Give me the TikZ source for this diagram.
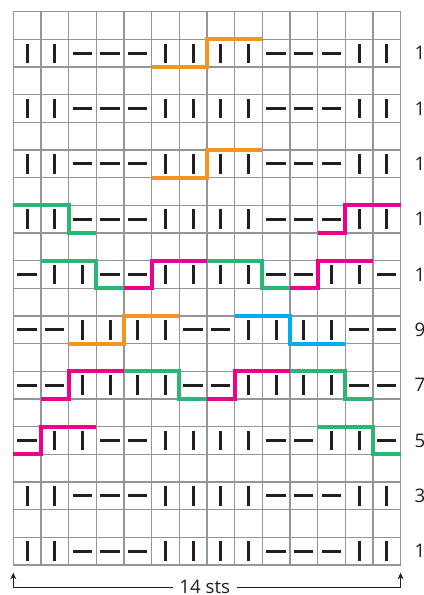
\documentclass[tikz,border=0pt]{standalone}
\usepackage{fontspec}
\setmainfont{Open Sans}
\usetikzlibrary{arrows.meta}
\definecolor{gridgray}{HTML}{939598}
\definecolor{ink}{HTML}{231F20}
\definecolor{corange}{HTML}{F7941D}
\definecolor{cgreen}{HTML}{2AB673}
\definecolor{cpink}{HTML}{EC008C}
\definecolor{cblue}{HTML}{00AEEF}
\newcommand\chartrow[2]{%
  \foreach \v [count=\c] in {#2} {%
    \ifnum\v=1
      \draw[knit] (\c-0.5,#1+0.15) -- ++(0,0.7);
    \else
      \draw[purl] (\c-0.85,#1+0.5) -- ++(0.7,0);
    \fi
  }%
}
\begin{document}
\begin{tikzpicture}[x=20.74pt,y=20.74pt,
  gridline/.style={draw=gridgray,line width=1.1pt},
  knit/.style={draw=ink,line width=2.1pt},
  purl/.style={draw=ink,line width=2.1pt},
  cable/.style={line width=3pt,line join=miter},
  lbl/.style={font=\fontsize{14}{16}\selectfont,text=ink,inner sep=0pt},
  dim/.style={draw=ink,line width=0.8pt}]
\useasboundingbox (-0.481,-1.085) rectangle (14.817,20.423);
\foreach \i in {0,...,14} \draw[gridline] (\i,0) -- (\i,20);
\foreach \j in {0,...,20} \draw[gridline] (0,\j) -- (14,\j);
\chartrow{0}{1,1,0,0,0,1,1,1,1,0,0,0,1,1}
\chartrow{2}{1,1,0,0,0,1,1,1,1,0,0,0,1,1}
\chartrow{4}{0,1,1,0,0,1,1,1,1,0,0,1,1,0}
\chartrow{6}{0,0,1,1,1,1,0,0,1,1,1,1,0,0}
\chartrow{8}{0,0,1,1,1,1,0,0,1,1,1,1,0,0}
\chartrow{10}{0,1,1,0,0,1,1,1,1,0,0,1,1,0}
\chartrow{12}{1,1,0,0,0,1,1,1,1,0,0,0,1,1}
\chartrow{14}{1,1,0,0,0,1,1,1,1,0,0,0,1,1}
\chartrow{16}{1,1,0,0,0,1,1,1,1,0,0,0,1,1}
\chartrow{18}{1,1,0,0,0,1,1,1,1,0,0,0,1,1}
% orange
\draw[cable,corange] (5,18) -- (7,18) -- (7,19) -- (9,19);
\draw[cable,corange] (5,14) -- (7,14) -- (7,15) -- (9,15);
\draw[cable,corange] (2,8) -- (4,8) -- (4,9) -- (6,9);
% green
\draw[cable,cgreen] (0,13) -- (2,13) -- (2,12) -- (3,12);
\draw[cable,cgreen] (1,11) -- (3,11) -- (3,10) -- (4,10);
\draw[cable,cgreen] (7,11) -- (9,11) -- (9,10) -- (10,10);
\draw[cable,cgreen] (4,7) -- (6,7) -- (6,6) -- (7,6);
\draw[cable,cgreen] (10,7) -- (12,7) -- (12,6) -- (13,6);
\draw[cable,cgreen] (11,5) -- (13,5) -- (13,4) -- (14,4);
% pink
\draw[cable,cpink] (11,12) -- (12,12) -- (12,13) -- (14,13);
\draw[cable,cpink] (4,10) -- (5,10) -- (5,11) -- (7,11);
\draw[cable,cpink] (10,10) -- (11,10) -- (11,11) -- (13,11);
\draw[cable,cpink] (1,6) -- (2,6) -- (2,7) -- (4,7);
\draw[cable,cpink] (7,6) -- (8,6) -- (8,7) -- (10,7);
\draw[cable,cpink] (0,4) -- (1,4) -- (1,5) -- (3,5);
% blue
\draw[cable,cblue] (8,9) -- (10,9) -- (10,8) -- (12,8);
% row labels
\foreach \r [evaluate=\r as \n using int(\r+1)] in {0,2,...,18}{
  \node[lbl,anchor=west] (row\n) at (14.5,\r+0.5) {\n};
}
% width
\node[lbl,inner xsep=5pt] (sts) at (6.92,-0.8) {14 sts};
\coordinate (bl) at (0,-0.8);
\coordinate (blt) at (0,-0.28);
\coordinate (br) at (14,-0.8);
\coordinate (brt) at (14,-0.28);
\draw[dim,-{Stealth[length=5pt,width=4.5pt]}] (sts.west) -- (bl) -- (blt);
\draw[dim,-{Stealth[length=5pt,width=4.5pt]}] (sts.east) -- (br) -- (brt);
\end{tikzpicture}
\end{document}
